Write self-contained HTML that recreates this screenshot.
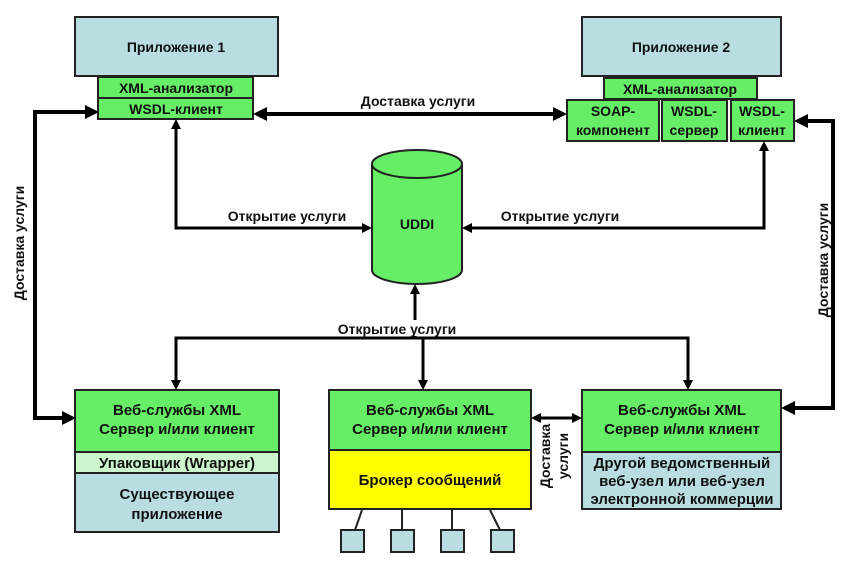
<!DOCTYPE html>
<html><head><meta charset="utf-8"><style>
html,body{margin:0;padding:0;background:#fff;}
svg text{font-family:"Liberation Sans",Arial,sans-serif;font-weight:bold;font-size:14px;fill:#111;}
svg text.b{font-size:15px;}
</style></head><body>
<svg width="851" height="569" viewBox="0 0 851 569" xmlns="http://www.w3.org/2000/svg">
<g stroke="#222" stroke-width="2">
<rect x="75" y="17" width="203" height="59" fill="#b9dde0"/>
<rect x="98" y="77" width="155" height="21" fill="#66ee66"/>
<rect x="98" y="98" width="155" height="21" fill="#66ee66"/>
<rect x="582" y="17" width="199" height="59" fill="#b9dde0"/>
<rect x="604" y="78" width="153" height="21" fill="#66ee66"/>
<rect x="567" y="100" width="92" height="41" fill="#66ee66"/>
<rect x="662" y="100" width="65" height="41" fill="#66ee66"/>
<rect x="731" y="100" width="63" height="41" fill="#66ee66"/>
<path d="M372,164 L372,270 A45,14 0 0 0 462,270 L462,164" fill="#66ee66"/>
<ellipse cx="417" cy="164" rx="45" ry="14" fill="#66ee66"/>
<rect x="75" y="390" width="204" height="62" fill="#66ee66"/>
<rect x="75" y="452" width="204" height="21" fill="#ccf5cc"/>
<rect x="75" y="473" width="204" height="59" fill="#b9dde0"/>
<rect x="329" y="390" width="202" height="60" fill="#66ee66"/>
<rect x="329" y="450" width="202" height="59" fill="#ffff00"/>
<rect x="582" y="390" width="199" height="62" fill="#66ee66"/>
<rect x="582" y="452" width="199" height="57" fill="#b9dde0"/>
<rect x="341" y="530" width="23" height="22" fill="#b9dde0"/>
<rect x="391" y="530" width="23" height="22" fill="#b9dde0"/>
<rect x="441" y="530" width="23" height="22" fill="#b9dde0"/>
<rect x="491" y="530" width="23" height="22" fill="#b9dde0"/>
<path d="M362,510 L355,530 M402,510 L402,530 M452,510 L452,530 M490,510 L500,530" fill="none"/>
</g>
<g stroke="#000" fill="none">
<path d="M264,114 L556,114" stroke-width="4"/>
<path d="M88,112 L35,112 L35,418 L66,418" stroke-width="4"/>
<path d="M804,121 L833,121 L833,408 L791,408" stroke-width="4"/>
<path d="M176,127 L176,228 L365,228" stroke-width="3"/>
<path d="M764,149 L764,228 L469,228" stroke-width="3"/>
<path d="M415,292 L415,338" stroke-width="3"/>
<path d="M176,383 L176,338 L688,338 L688,383" stroke-width="3"/>
<path d="M423,338 L423,383" stroke-width="3"/>
<path d="M538,418 L575,418" stroke-width="3"/>
</g>
<g fill="#000">
<polygon points="253,114 267,107 267,121"/>
<polygon points="567,114 553,107 553,121"/>
<polygon points="99,112 85,105 85,119"/>
<polygon points="76,418 62,411 62,425"/>
<polygon points="794,121 808,114 808,128"/>
<polygon points="781,408 795,401 795,415"/>
<polygon points="176,119 171,129 181,129"/>
<polygon points="372,228 362,223 362,233"/>
<polygon points="764,141 759,151 769,151"/>
<polygon points="462,228 472,223 472,233"/>
<polygon points="415,284 410,294 420,294"/>
<polygon points="176,390 171,380 181,380"/>
<polygon points="423,390 418,380 428,380"/>
<polygon points="688,390 683,380 693,380"/>
<polygon points="531,418 541,413 541,423"/>
<polygon points="582,418 572,413 572,423"/>
</g>
<rect x="408" y="320" width="12" height="16" fill="#fff"/>
<g text-anchor="middle">
<text x="176" y="52">Приложение 1</text>
<text x="176" y="93">XML-анализатор</text>
<text x="176" y="114">WSDL-клиент</text>
<text x="681" y="52">Приложение 2</text>
<text x="680" y="94">XML-анализатор</text>
<text x="613" y="116">SOAP-</text>
<text x="613" y="135">компонент</text>
<text x="694" y="116">WSDL-</text>
<text x="694" y="135">сервер</text>
<text x="762" y="116">WSDL-</text>
<text x="762" y="135">клиент</text>
<text x="418" y="106">Доставка услуги</text>
<text x="287" y="221">Открытие услуги</text>
<text x="560" y="221">Открытие услуги</text>
<text x="417" y="229">UDDI</text>
<text x="397" y="334">Открытие услуги</text>
<text class="b" x="177" y="415">Веб-службы XML</text>
<text class="b" x="177" y="434">Сервер и/или клиент</text>
<text class="b" x="177" y="468">Упаковщик (Wrapper)</text>
<text class="b" x="177" y="499">Существующее</text>
<text class="b" x="177" y="519">приложение</text>
<text class="b" x="430" y="415">Веб-службы XML</text>
<text class="b" x="430" y="434">Сервер и/или клиент</text>
<text class="b" x="430" y="485">Брокер сообщений</text>
<text class="b" x="682" y="415">Веб-службы XML</text>
<text class="b" x="682" y="434">Сервер и/или клиент</text>
<text class="b" x="682" y="468">Другой ведомственный</text>
<text class="b" x="682" y="486">веб-узел или веб-узел</text>
<text class="b" x="682" y="504">электронной коммерции</text>
<text transform="translate(24,243) rotate(-90)">Доставка услуги</text>
<text transform="translate(828,260) rotate(-90)">Доставка услуги</text>
<text transform="translate(550,456) rotate(-90)">Доставка</text>
<text transform="translate(568,456) rotate(-90)">услуги</text>
</g>
</svg>
</body></html>
